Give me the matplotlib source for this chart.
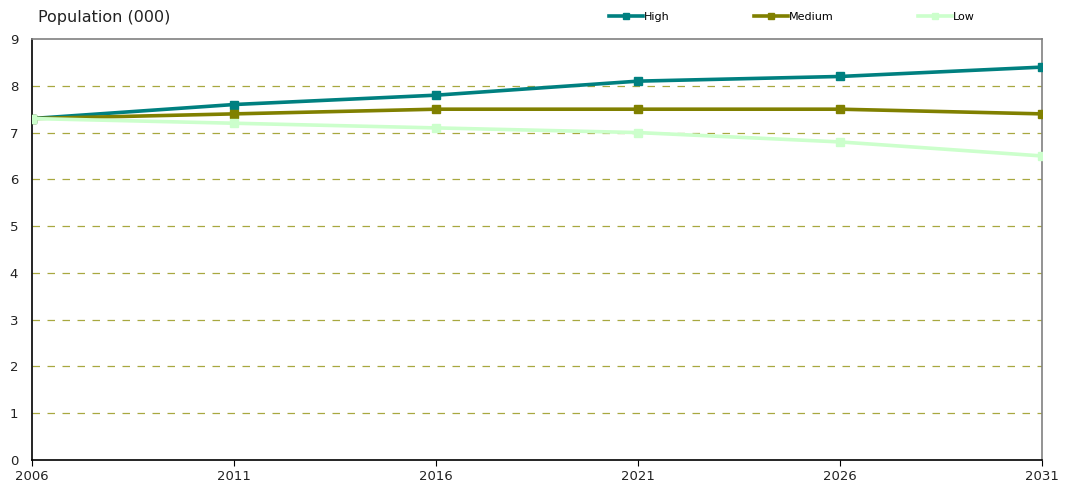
import matplotlib.pyplot as plt

# data
years = [2006, 2011, 2016, 2021, 2026, 2031]
high = [7.3, 7.6, 7.8, 8.1, 8.2, 8.4]
medium = [7.3, 7.4, 7.5, 7.5, 7.5, 7.4]
low = [7.3, 7.2, 7.1, 7.0, 6.8, 6.5]

HIGH_COL = '#008080'
MED_COL = '#808000'
LOW_COL = '#ccffcc'

plt.rcParams['font.family'] = ['DejaVu Sans']

fig = plt.figure(figsize=(10.69, 4.88), dpi=100)
ax = fig.add_axes([0.030, 0.0574, 0.945, 0.8626])

# grid lines
for y in range(1, 9):
    ax.axhline(y, color='#a8a840', linestyle=(0, (6, 6)), linewidth=0.9, zorder=1)

ax.plot(years, high, color=HIGH_COL, linewidth=2.6, marker='s', markersize=5.5, label='High', zorder=3)
ax.plot(years, medium, color=MED_COL, linewidth=2.6, marker='s', markersize=5.5, label='Medium', zorder=4)
ax.plot(years, low, color=LOW_COL, linewidth=2.6, marker='s', markersize=5.5, label='Low', zorder=5)

ax.set_xlim(2006, 2031)
ax.set_ylim(0, 9)
ax.set_xticks(years)
ax.set_yticks(range(0, 10))
ax.tick_params(axis='y', length=0, labelsize=9.5, pad=10, colors='#222222')
ax.tick_params(axis='x', length=4, direction='out', labelsize=9.5, pad=3, labelcolor='#222222')

for s in ['left', 'bottom']:
    ax.spines[s].set_color('black')
    ax.spines[s].set_linewidth(1.2)
for s in ['top', 'right']:
    ax.spines[s].set_color('#808080')
    ax.spines[s].set_linewidth(1.2)

fig.text(0.036, 0.965, 'Population (000)', fontsize=11.5, va='center', ha='left', color='#222222')

handles, labels = ax.get_legend_handles_labels()
fig.legend(handles, labels,
           loc='center left', bbox_to_anchor=(0.56, 0.965), ncol=3, frameon=False,
           fontsize=8, handlelength=3.1, handletextpad=0.05, columnspacing=7.6,
           markerscale=0.9)

fig.savefig('out.png', dpi=100)
